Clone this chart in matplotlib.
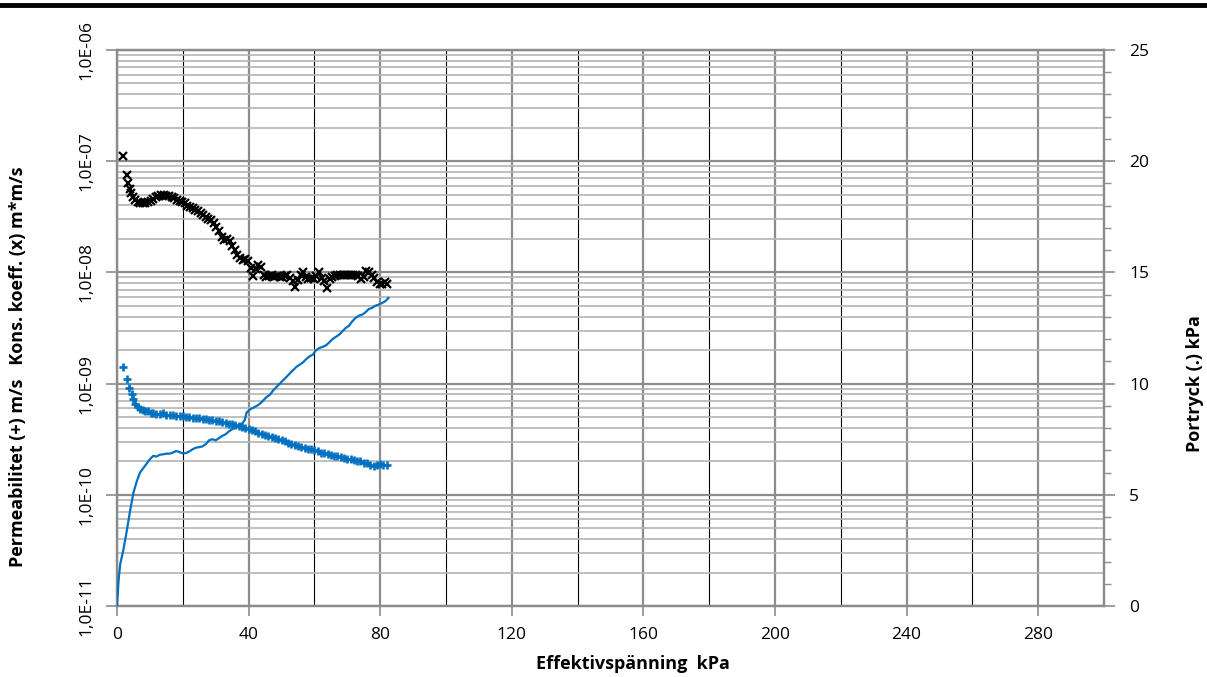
import matplotlib
matplotlib.use("Agg")
import matplotlib.pyplot as plt
from matplotlib.ticker import MultipleLocator, FixedLocator, FuncFormatter, NullFormatter
from matplotlib.lines import Line2D
import numpy as np

plt.rcParams['font.family'] = ['Open Sans', 'DejaVu Sans']

# Kons. koeff. (x)  -- log10 of m*m/s
kons_x = [1.9, 2.9, 3.4, 3.9, 4.4, 5.0, 5.6, 6.3, 7.0, 7.8, 8.6, 9.4, 10.2, 11.0, 11.8,
          12.6, 13.4, 14.2, 15.0, 15.8, 16.6, 17.4, 18.2, 19.0, 19.8, 20.6, 21.4, 22.2,
          23.0, 23.8, 24.6, 25.4, 26.2, 27.0, 27.8, 28.6, 29.4, 30.2, 31.0, 31.8, 32.6,
          33.4, 34.2, 35.0, 35.8, 36.6, 37.4, 38.2, 39.0, 39.8, 40.6, 41.4, 42.2, 43.0,
          43.8, 44.6, 45.4, 46.2, 47.0, 47.8, 48.6, 49.4, 50.2, 51.0, 51.8, 52.6, 53.4,
          54.2, 55.0, 55.8, 56.6, 57.4, 58.2, 59.0, 59.8, 60.6, 61.4, 62.2, 63.0, 63.8,
          64.6, 65.4, 66.2, 67.0, 67.8, 68.6, 69.4, 70.2, 71.0, 71.8, 72.6, 73.4, 74.2,
          75.0, 75.8, 76.6, 77.4, 78.2, 79.0, 79.8, 80.6, 81.4, 82.0]
kons_log = [-6.95, -7.12, -7.20, -7.25, -7.29, -7.32, -7.35, -7.37, -7.38, -7.38, -7.38,
            -7.37, -7.36, -7.34, -7.32, -7.31, -7.30, -7.30, -7.31, -7.31, -7.32, -7.33,
            -7.35, -7.36, -7.37, -7.38, -7.40, -7.41, -7.42, -7.44, -7.45, -7.47, -7.48,
            -7.50, -7.52, -7.53, -7.56, -7.59, -7.63, -7.68, -7.71, -7.70, -7.72, -7.76,
            -7.80, -7.84, -7.87, -7.89, -7.88, -7.90, -7.96, -8.03, -7.97, -7.93, -7.95,
            -8.02, -8.04, -8.03, -8.02, -8.04, -8.03, -8.04, -8.04, -8.03, -8.02, -8.05,
            -8.08, -8.13, -8.07, -8.02, -8.00, -8.04, -8.06, -8.05, -8.06, -8.03, -8.00,
            -8.05, -8.08, -8.14, -8.06, -8.04, -8.03, -8.02, -8.02, -8.02, -8.02, -8.02,
            -8.02, -8.02, -8.02, -8.03, -8.06, -8.04, -7.99, -8.00, -8.02, -8.05, -8.09,
            -8.10, -8.10, -8.09, -8.10]

# Permeabilitet (+)  -- log10 of m/s
perm_x = [1.7, 2.9, 3.7, 4.5, 5.0, 5.6, 6.3, 7.0, 7.8, 8.6, 9.4, 10.2, 11, 12, 13, 14,
          15, 16, 17, 18, 19, 20, 21, 22, 23, 24, 25, 26, 27, 28, 29, 30, 31, 32, 33, 34,
          35, 36, 37, 38, 39, 40, 41, 42, 43, 44, 45, 46, 47, 48, 49, 50, 51, 52, 53, 54,
          55, 56, 57, 58, 59, 60, 61, 62, 63, 64, 65, 66, 67, 68, 69, 70, 71, 72, 73, 74,
          75, 76, 77, 78, 79, 80, 81, 82]
perm_log = [-8.85, -8.96, -9.04, -9.09, -9.14, -9.18, -9.21, -9.23, -9.24, -9.25, -9.25,
            -9.26, -9.26, -9.27, -9.27, -9.265, -9.28, -9.28, -9.285, -9.29, -9.29, -9.29,
            -9.30, -9.30, -9.305, -9.31, -9.31, -9.315, -9.32, -9.325, -9.33, -9.335,
            -9.34, -9.345, -9.35, -9.36, -9.365, -9.37, -9.38, -9.39, -9.40, -9.41, -9.42,
            -9.43, -9.44, -9.45, -9.46, -9.47, -9.48, -9.49, -9.50, -9.51, -9.52, -9.53,
            -9.54, -9.55, -9.56, -9.57, -9.575, -9.585, -9.59, -9.60, -9.61, -9.62, -9.625,
            -9.635, -9.64, -9.65, -9.655, -9.66, -9.67, -9.675, -9.68, -9.69, -9.695,
            -9.70, -9.71, -9.715, -9.73, -9.74, -9.735, -9.725, -9.73, -9.735]

# Portryck (.) kPa
port_x = [0, 0.5, 1.0, 1.9, 3.0, 4.0, 5.0, 6.0, 7.0, 8.0, 9.0, 10.0, 11.0, 12.0, 13.0,
          14.0, 15.0, 16.0, 17.0, 18.0, 19.0, 20.0, 21.0, 22.0, 23.0, 24.0, 25.0, 26.0,
          27.0, 28.0, 29.0, 30.0, 31.0, 32.0, 33.0, 34.0, 35.0, 36.0, 37.0, 38.0, 38.8,
          39.4, 40.5, 41.5, 42.5, 43.5, 44.5, 45.5, 46.5, 47.5, 48.5, 49.5, 50.5, 51.5,
          52.5, 53.5, 54.5, 55.5, 56.5, 57.5, 58.5, 59.5, 60.5, 61.5, 62.5, 63.5, 64.5,
          65.5, 66.5, 67.5, 68.5, 69.5, 70.5, 71.5, 72.5, 73.5, 74.5, 75.5, 76.5, 77.5,
          78.5, 79.5, 80.5, 81.5, 82.5]
port_kpa = [0, 1.2, 1.9, 2.5, 3.4, 4.3, 5.1, 5.6, 6.0, 6.2, 6.4, 6.6, 6.75, 6.72, 6.8,
            6.82, 6.85, 6.85, 6.9, 6.97, 6.92, 6.86, 6.88, 6.95, 7.05, 7.12, 7.14, 7.18,
            7.28, 7.45, 7.5, 7.45, 7.55, 7.65, 7.72, 7.85, 7.95, 8.02, 8.1, 8.2, 8.35,
            8.7, 8.85, 8.92, 9.0, 9.1, 9.25, 9.4, 9.5, 9.7, 9.85, 10.0, 10.15, 10.3, 10.45,
            10.6, 10.75, 10.85, 10.95, 11.1, 11.22, 11.3, 11.5, 11.6, 11.65, 11.72, 11.85,
            12.0, 12.1, 12.2, 12.35, 12.5, 12.6, 12.8, 12.95, 13.05, 13.1, 13.2, 13.35,
            13.4, 13.5, 13.55, 13.62, 13.7, 13.85]

decades = [1e-11, 1e-10, 1e-9, 1e-8, 1e-7, 1e-6]
minor_ticks = [m * d for d in decades[:-1] for m in range(2, 10)]

blue = '#0070C0'
grid_major = '#8c8c8c'
grid_minor = '#b4b4b4'

fig = plt.figure(figsize=(12.07, 6.77), dpi=100)
ax = fig.add_axes([117 / 1207, 71 / 677, 987 / 1207, 556 / 677])

ax.set_yscale('log')
ax.set_xlim(0, 300)
ax.set_ylim(1e-11, 1e-6)

ax.plot(kons_x, 10 ** np.array(kons_log), linestyle='none', marker='x',
        color='black', markersize=5.5, markeredgewidth=1.6, zorder=4)
ax.plot(perm_x, 10 ** np.array(perm_log), linestyle='none', marker='+',
        color=blue, markersize=6, markeredgewidth=1.9, zorder=4)

# gridlines
ax.xaxis.set_major_locator(MultipleLocator(40))
ax.xaxis.set_minor_locator(MultipleLocator(20))
ax.yaxis.set_major_locator(FixedLocator(decades))
ax.yaxis.set_minor_locator(FixedLocator(minor_ticks))
ax.yaxis.set_minor_formatter(NullFormatter())
ax.grid(True, which='major', axis='x', color=grid_major, lw=1.6)
ax.grid(True, which='minor', axis='x', color='black', lw=0.8)
ax.grid(True, which='major', axis='y', color=grid_major, lw=1.6)
ax.grid(True, which='minor', axis='y', color=grid_minor, lw=1.2)
ax.set_axisbelow(True)


def sci_comma(v, pos):
    exp = int(round(np.log10(v)))
    return '1,0E-%02d' % (-exp)


ax.yaxis.set_major_formatter(FuncFormatter(sci_comma))
ax.tick_params(axis='y', which='major', length=8, width=1.2, color=grid_major,
               labelsize=12.5, labelrotation=90, pad=8)
ax.tick_params(axis='y', which='minor', length=0)
ax.tick_params(axis='x', which='major', length=7, width=1.2, color=grid_major,
               labelsize=12.5, pad=8)
ax.tick_params(axis='x', which='minor', length=0)
for lab in ax.get_yticklabels():
    lab.set_va('center')

for s in ax.spines.values():
    s.set_color(grid_major)
    s.set_linewidth(1.6)

# right axis, pore pressure
ax2 = ax.twinx()
ax2.set_ylim(0, 25)
ax2.plot(port_x, port_kpa, color=blue, lw=1.6, zorder=5)
ax2.yaxis.set_major_locator(MultipleLocator(5))
ax2.yaxis.set_minor_locator(MultipleLocator(1))
ax2.tick_params(axis='y', which='major', length=8, width=1.2, color=grid_major,
                labelsize=12.5, pad=10)
ax2.tick_params(axis='y', which='minor', length=5, width=1.0, color=grid_major)
for s in ax2.spines.values():
    s.set_color(grid_major)
    s.set_linewidth(1.6)

fig.text(0.524, 0.019, 'Effektivspänning  kPa', ha='center', va='center',
         fontsize=13, fontweight='bold')
fig.text(0.015, 0.458, 'Permeabilitet (+) m/s   Kons. koeff. (x) m*m/s',
         rotation=90, ha='center', va='center', fontsize=13, fontweight='bold')
fig.text(0.99, 0.434, 'Portryck (.) kPa', rotation=90, ha='center', va='center',
         fontsize=13, fontweight='bold')

# heavy rule across the top of the page
fig.add_artist(Line2D([0, 1], [0.993, 0.993], color='black', lw=3.5))

fig.savefig('out.png', dpi=100)
